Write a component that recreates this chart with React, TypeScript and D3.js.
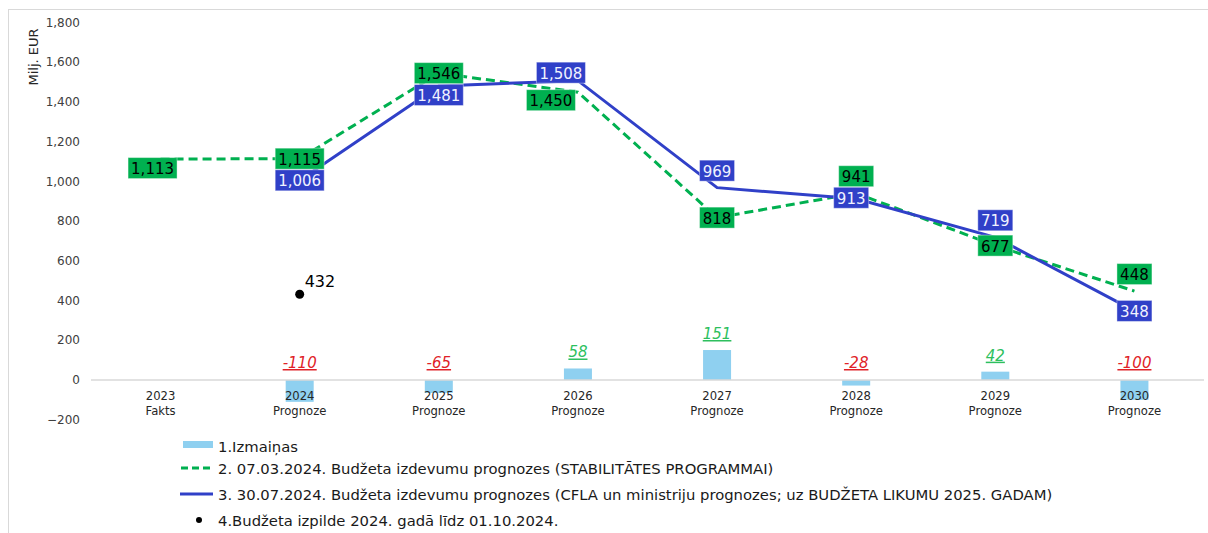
import React from 'react';
import * as d3 from 'd3';

const years = ['2023', '2024', '2025', '2026', '2027', '2028', '2029', '2030'];
const yearNotes = ['Fakts', 'Prognoze', 'Prognoze', 'Prognoze', 'Prognoze', 'Prognoze', 'Prognoze', 'Prognoze'];
const changes: (number | null)[] = [null, -110, -65, 58, 151, -28, 42, -100];
const stabProgramme: (number | null)[] = [1113, 1115, 1546, 1450, 818, 941, 677, 448];
const budgetLaw: (number | null)[] = [null, 1006, 1481, 1508, 969, 913, 719, 348];
const execution: (number | null)[] = [null, 432, null, null, null, null, null, null];
const yTicks = [-200, 0, 200, 400, 600, 800, 1000, 1200, 1400, 1600, 1800];

// where each data label sits relative to its point
const stabPlace = ['firstBelow', 'center', 'center', 'belowLeft', 'center', 'above', 'center', 'above'];
const lawPlace = [null, 'center', 'below', 'aboveLeft', 'above', 'slightLeft', 'above', 'center'];

const legendNames = [
  '1.Izmaiņas',
  '2. 07.03.2024. Budžeta izdevumu prognozes (STABILITĀTES PROGRAMMAI)',
  '3. 30.07.2024. Budžeta izdevumu prognozes (CFLA un ministriju prognozes; uz BUDŽETA LIKUMU 2025. GADAM)',
  '4.Budžeta izpilde 2024. gadā līdz 01.10.2024.',
];

const W = 1208;
const H = 533;
const GREEN = '#00b050';
const BLUE = '#3040c8';
const BAR = '#8fd0f0';
const FONT = '"DejaVu Sans", Verdana, sans-serif';

const offsets: Record<string, [number, number]> = {
  center: [0, 0],
  above: [0, -17],
  below: [0, 9],
  firstBelow: [-8, 9],
  belowLeft: [-27, 8],
  aboveLeft: [-17, -8],
  slightLeft: [-5, -1],
};

const fmt = d3.format(',');

const App: React.FC = () => {
  const x = d3.scaleBand<string>().domain(years).range([91, 1204]).padding(0);
  const y = d3.scaleLinear().domain([-200, 1800]).range([419.7, 22.7]);
  const cx = (i: number) => (x(years[i]) ?? 0) + x.bandwidth() / 2;
  const barW = 28;

  const line = d3
    .line<number | null>()
    .defined((d) => d !== null)
    .x((_d, i) => cx(i))
    .y((d) => y(d as number));

  const boxLabel = (v: number, i: number, place: string, fill: string, color: string, key: string) => {
    const [dx, dy] = offsets[place];
    const t = fmt(v);
    const w = t.length * 7 + 14;
    const h = 21;
    const px = cx(i) + dx;
    const py = y(v) + dy;
    return (
      <g key={key}>
        <rect x={px - w / 2} y={py - h / 2} width={w} height={h} fill={fill} stroke="#ffffff" strokeOpacity={0.4} />
        <text x={px} y={py + 1} textAnchor="middle" dominantBaseline="central" fontSize={15} fill={color}>
          {t}
        </text>
      </g>
    );
  };

  return (
    <svg width={W} height={H} style={{ display: 'block', position: 'absolute', left: 0, top: 0 }} fontFamily={FONT}>
      <rect x={0} y={0} width={W} height={H} fill="#ffffff" />
      <rect x={8.5} y={9.5} width={1300} height={600} fill="none" stroke="#d9d9d9" />

      {/* y axis */}
      {yTicks.map((t) => (
        <text key={t} x={80} y={y(t)} textAnchor="end" dominantBaseline="central" fontSize={12} fill="#404040">
          {fmt(t)}
        </text>
      ))}
      <text transform={`translate(38,57) rotate(-90)`} textAnchor="middle" fontSize={13} fill="#262626">
        Milj. EUR
      </text>

      {/* bars */}
      {changes.map((v, i) =>
        v === null ? null : (
          <rect
            key={'b' + i}
            x={cx(i) - barW / 2}
            y={Math.min(y(v), y(0))}
            width={barW}
            height={Math.abs(y(v) - y(0))}
            fill={BAR}
          />
        )
      )}
      <line x1={91} x2={1204} y1={y(0)} y2={y(0)} stroke="#d9d9d9" strokeWidth={1.5} />

      {/* x axis labels */}
      {years.map((yr, i) => (
        <text key={yr} x={cx(i)} y={400} textAnchor="middle" fontSize={11.6} fill="#262626">
          <tspan x={cx(i)}>{yr}</tspan>
          <tspan x={cx(i)} dy={14.5}>
            {yearNotes[i]}
          </tspan>
        </text>
      ))}

      {/* bar labels */}
      {changes.map((v, i) =>
        v === null ? null : (
          <text
            key={'bl' + i}
            x={cx(i)}
            y={v >= 0 ? y(v) - 11 : y(0) - 12}
            textAnchor="middle"
            fontSize={15}
            fontStyle="italic"
            textDecoration="underline"
            fill={v >= 0 ? '#2dbf5e' : '#e02228'}
          >
            {v}
          </text>
        )
      )}

      {/* lines */}
      <path d={line(stabProgramme) ?? ''} fill="none" stroke={GREEN} strokeWidth={3} strokeDasharray="9,5" />
      <path d={line(budgetLaw) ?? ''} fill="none" stroke={BLUE} strokeWidth={3} />

      {/* execution dot */}
      {execution.map((v, i) =>
        v === null ? null : (
          <g key={'e' + i}>
            <circle cx={cx(i)} cy={y(v)} r={4.5} fill="#000" />
            <text x={cx(i) + 5} y={y(v) - 7} fontSize={16} fill="#000">
              {v}
            </text>
          </g>
        )
      )}

      {/* point labels */}
      {stabProgramme.map((v, i) => (v === null ? null : boxLabel(v, i, stabPlace[i] as string, GREEN, '#000000', 'g' + i)))}
      {budgetLaw.map((v, i) => (v === null ? null : boxLabel(v, i, lawPlace[i] as string, BLUE, '#f0f2ff', 'l' + i)))}

      {/* legend */}
      <g fontSize={14.8} fill="#1a1a1a">
        <rect x={183} y={441} width={30} height={7} fill={BAR} />
        <text x={218} y={446} dominantBaseline="central">{legendNames[0]}</text>
        <line x1={181} x2={213} y1={468} y2={468} stroke={GREEN} strokeWidth={3} strokeDasharray="7,4" />
        <text x={218} y={468} dominantBaseline="central">{legendNames[1]}</text>
        <line x1={180} x2={213} y1={494} y2={494} stroke={BLUE} strokeWidth={3} />
        <text x={218} y={494} dominantBaseline="central">{legendNames[2]}</text>
        <circle cx={199} cy={520} r={3} fill="#000" />
        <text x={218} y={520} dominantBaseline="central">{legendNames[3]}</text>
      </g>
    </svg>
  );
};

export default App;
